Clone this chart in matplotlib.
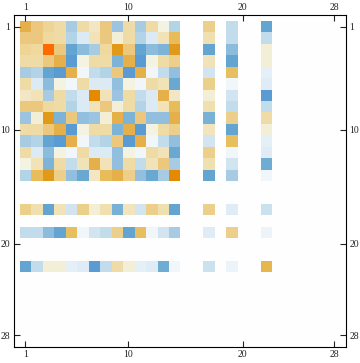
import numpy as np
import matplotlib
matplotlib.use("Agg")
import matplotlib.pyplot as plt
from matplotlib.colors import LinearSegmentedColormap, Normalize

# Matrix size and the indices that carry non-zero entries
n = 28
active = [1, 2, 3, 4, 5, 6, 7, 8, 9, 10, 11, 12, 13, 14, 17, 19, 22]
tick_labels = [1, 10, 20, 28]

# Values (symmetric), rows/cols ordered as `active`
r1  = [0.60, 0.42, 0.33, 0.28, -0.35, 0.28, 0.15, 0.42, -0.40, 0.28, -0.35, 0.28, 0.08, -0.30, 0.37, -0.24, -0.65]
r2  = [0.42, 0.42, 0.30, 0.28, -0.30, -0.14, 0.20, 0.42, 0.10, 0.28, -0.30, -0.14, 0.20, 0.52, 0.24, -0.24, -0.24]
r3  = [0.33, 0.30, 1.00, 0.42, -0.65, -0.48, -0.35, 0.30, 0.75, 0.42, -0.65, -0.48, -0.53, 0.75, -0.65, -0.48, 0.10]
r4  = [0.28, 0.28, 0.42, 0.60, -0.75, 0.08, 0.28, 0.28, -0.53, 0.60, -0.75, 0.08, 0.28, 0.37, 0.20, -0.65, 0.10]
r5  = [-0.35, -0.30, -0.65, -0.75, 0.60, -0.05, -0.24, -0.30, 0.42, -0.75, 0.60, -0.05, -0.24, -0.44, -0.18, 0.50, -0.10]
r6  = [0.28, -0.14, -0.48, 0.08, -0.05, 0.28, -0.14, -0.14, -0.44, 0.08, -0.05, 0.28, 0.20, -0.60, 0.37, -0.05, -0.12]
r7  = [0.15, 0.20, -0.35, 0.28, -0.24, -0.14, 0.85, 0.20, -0.40, 0.28, -0.24, -0.14, 0.60, 0.15, 0.10, -0.18, -0.75]
r8  = [0.42, 0.42, 0.30, 0.28, -0.30, -0.14, 0.20, 0.42, 0.10, 0.28, -0.30, -0.14, 0.20, 0.52, 0.24, -0.24, -0.24]
r9  = [-0.40, 0.10, 0.75, -0.53, 0.42, -0.44, -0.40, 0.10, 0.60, -0.53, 0.42, -0.44, -0.44, 0.60, -0.55, 0.37, 0.28]
r10 = [0.28, 0.28, 0.42, 0.60, -0.75, 0.08, 0.28, 0.28, -0.53, 0.60, -0.75, 0.08, 0.28, 0.37, 0.18, -0.65, 0.10]
r11 = [-0.35, -0.30, -0.65, -0.75, 0.60, -0.05, -0.24, -0.30, 0.42, -0.75, 0.60, -0.05, -0.24, -0.44, -0.18, 0.50, -0.10]
r12 = [0.28, -0.14, -0.48, 0.08, -0.05, 0.28, -0.14, -0.14, -0.44, 0.08, -0.05, 0.28, 0.20, -0.60, 0.37, -0.05, -0.12]
r13 = [0.08, 0.20, -0.53, 0.28, -0.24, 0.20, 0.60, 0.20, -0.44, 0.28, -0.24, 0.20, 0.42, -0.35, 0.24, -0.18, -0.58]
r14 = [-0.30, 0.52, 0.75, 0.37, -0.44, -0.60, 0.15, 0.52, 0.60, 0.37, -0.44, -0.60, -0.35, 0.85, -0.65, -0.35, -0.05]
r17 = [0.37, 0.24, -0.65, 0.20, -0.18, 0.37, 0.10, 0.24, -0.55, 0.18, -0.18, 0.37, 0.24, -0.65, 0.37, -0.12, -0.20]
r19 = [-0.24, -0.24, -0.48, -0.65, 0.50, -0.05, -0.18, -0.24, 0.37, -0.65, 0.50, -0.05, -0.18, -0.35, -0.12, 0.37, -0.07]
r22 = [-0.65, -0.24, 0.10, 0.10, -0.10, -0.12, -0.75, -0.24, 0.28, 0.10, -0.10, -0.12, -0.58, -0.05, -0.20, -0.07, 0.55]
rows = [r1, r2, r3, r4, r5, r6, r7, r8, r9, r10, r11, r12, r13, r14, r17, r19, r22]

M = np.zeros((n, n))
for i, ri in enumerate(active):
    for j, cj in enumerate(active):
        M[ri - 1, cj - 1] = rows[i][j]

# Diverging colour scheme (blue - white - orange)
anchors = [
    (-1.00, "#4a8fd0"), (-0.75, "#5b9bd5"), (-0.65, "#64a6d0"), (-0.60, "#6aaad2"),
    (-0.53, "#7eb4d8"), (-0.48, "#8cbcdc"), (-0.44, "#94c0e0"), (-0.40, "#9cc4e0"),
    (-0.35, "#a8cce4"), (-0.30, "#b4d4e8"), (-0.24, "#c2dcec"), (-0.18, "#d2e5f0"),
    (-0.14, "#dceaf4"), (-0.10, "#e6f0f8"), (-0.05, "#f0f6fa"), (0.00, "#ffffff"),
    (0.08, "#f4f2e0"), (0.10, "#f4f0d8"), (0.15, "#f2e6c4"), (0.20, "#f2e4b8"),
    (0.24, "#f0e0b0"), (0.28, "#f0dca6"), (0.33, "#efd595"), (0.37, "#ecd08c"),
    (0.42, "#ecc97e"), (0.50, "#e8c060"), (0.55, "#e6b850"), (0.60, "#e6b04a"),
    (0.75, "#e09a1a"), (0.85, "#e48a00"), (1.00, "#ff6a00"),
]
cmap = LinearSegmentedColormap.from_list("mm", [((v + 1) / 2, c) for v, c in anchors], N=1024)

fig = plt.figure(figsize=(3.6, 3.63), dpi=100)
ax = fig.add_axes([13.5 / 360, 16 / 363, 332.5 / 360, 332 / 363])
ax.imshow(M, cmap=cmap, norm=Normalize(-1, 1), interpolation="nearest",
          extent=(0.5, n + 0.5, n + 0.5, 0.5), aspect="auto")
ax.set_xlim(-0.04, n + 1.04)
ax.set_ylim(n + 1.04, -0.04)

ax.set_xticks(tick_labels)
ax.set_yticks(tick_labels)
ax.set_xticklabels([str(t) for t in tick_labels])
ax.set_yticklabels([str(t) for t in tick_labels])
ax.tick_params(axis="both", which="both", direction="in", length=4, width=0.8,
               top=True, bottom=True, left=True, right=True,
               labeltop=True, labelbottom=True, labelleft=True, labelright=True,
               labelsize=7, pad=2.5, colors="#222222")
for lab in ax.get_xticklabels() + ax.get_yticklabels():
    lab.set_family("Liberation Serif")
for s in ax.spines.values():
    s.set_linewidth(0.8)
    s.set_color("black")

fig.savefig("out.png", dpi=100)
